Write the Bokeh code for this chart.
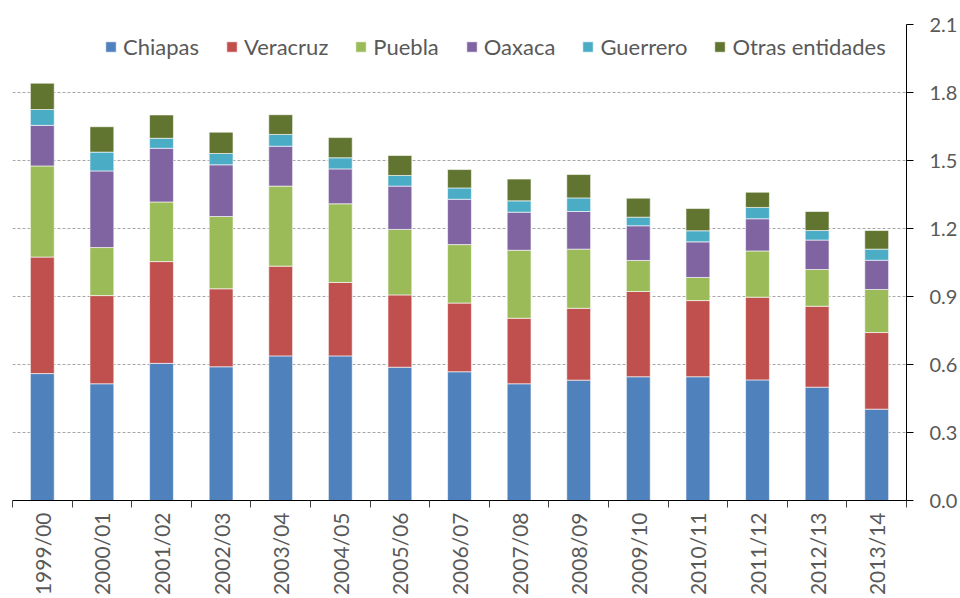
from bokeh.plotting import figure
from bokeh.models import ColumnDataSource, Range1d, FixedTicker, CustomJSTickFormatter, NumeralTickFormatter
from bokeh.embed import file_html
from bokeh.resources import INLINE
from math import pi

periods = ["1999/00", "2000/01", "2001/02", "2002/03", "2003/04", "2004/05", "2005/06",
           "2006/07", "2007/08", "2008/09", "2009/10", "2010/11", "2011/12", "2012/13", "2013/14"]

chiapas = [0.560, 0.515, 0.605, 0.590, 0.638, 0.638, 0.588, 0.568, 0.515, 0.531, 0.546, 0.546, 0.532, 0.500, 0.403]
veracruz = [0.514, 0.389, 0.449, 0.344, 0.396, 0.324, 0.319, 0.303, 0.289, 0.317, 0.376, 0.336, 0.365, 0.357, 0.338]
puebla = [0.402, 0.212, 0.263, 0.319, 0.353, 0.347, 0.289, 0.258, 0.300, 0.261, 0.137, 0.102, 0.204, 0.162, 0.190]
oaxaca = [0.179, 0.338, 0.237, 0.228, 0.176, 0.154, 0.191, 0.200, 0.168, 0.166, 0.153, 0.157, 0.142, 0.130, 0.129]
guerrero = [0.070, 0.083, 0.044, 0.050, 0.052, 0.049, 0.047, 0.050, 0.050, 0.060, 0.038, 0.049, 0.050, 0.042, 0.049]
otras = [0.116, 0.112, 0.103, 0.094, 0.087, 0.089, 0.088, 0.081, 0.096, 0.103, 0.084, 0.098, 0.067, 0.084, 0.082]

series_keys = ["chiapas", "veracruz", "puebla", "oaxaca", "guerrero", "otras"]
series_labels = ["Chiapas", "Veracruz", "Puebla", "Oaxaca", "Guerrero", "Otras entidades"]
colors = ["#4F81BD", "#C0504D", "#9BBB59", "#8064A2", "#4BACC6", "#617430"]
y_ticks = [0.0, 0.3, 0.6, 0.9, 1.2, 1.5, 1.8, 2.1]

n = len(periods)
x_centers = [i + 0.5 for i in range(n)]
boundaries = list(range(n + 1))

source = ColumnDataSource(dict(x=x_centers, chiapas=chiapas, veracruz=veracruz, puebla=puebla,
                               oaxaca=oaxaca, guerrero=guerrero, otras=otras))

FONT = "Lato"
TXT = "#595959"

p = figure(width=960, height=598, output_backend="svg", toolbar_location=None,
           x_range=Range1d(0, n), y_range=Range1d(0, 2.1), y_axis_location="right",
           min_border_left=12, min_border_top=24, min_border_right=47, min_border_bottom=10)
p.outline_line_color = None

p.vbar_stack(series_keys, x="x", width=0.4, source=source, color=colors,
             line_color="white", line_width=0.6, legend_label=series_labels)

# y axis
p.yaxis.ticker = FixedTicker(ticks=y_ticks)
p.yaxis.formatter = NumeralTickFormatter(format="0.0")
p.yaxis.major_label_text_font = FONT
p.yaxis.major_label_text_font_size = "20px"
p.yaxis.major_label_text_color = TXT
p.yaxis.axis_line_color = "black"
p.yaxis.major_tick_line_color = "black"
p.yaxis.major_tick_out = 7
p.yaxis.major_tick_in = 0
p.yaxis.minor_tick_line_color = None
p.yaxis.major_label_standoff = 16

# x axis
p.xaxis.ticker = FixedTicker(ticks=x_centers, minor_ticks=boundaries)
p.xaxis.formatter = CustomJSTickFormatter(args=dict(labels=periods),
                                          code="return labels[Math.floor(tick)];")
p.xaxis.major_label_orientation = pi / 2
p.xaxis.major_label_text_font = FONT
p.xaxis.major_label_text_font_size = "21px"
p.xaxis.major_label_text_color = TXT
p.xaxis.major_tick_out = 0
p.xaxis.major_tick_in = 0
p.xaxis.minor_tick_out = 7
p.xaxis.minor_tick_in = 0
p.xaxis.minor_tick_line_color = "#404040"
p.xaxis.axis_line_color = "black"
p.xaxis.major_label_standoff = 5

# grid
p.xgrid.visible = False
p.ygrid.ticker = FixedTicker(ticks=y_ticks)
p.ygrid.grid_line_color = "#A6A6A6"
p.ygrid.grid_line_dash = "3 2"
p.ygrid.grid_line_width = 1

# legend
lg = p.legend[0]
lg.orientation = "horizontal"
lg.location = (92, 440)
lg.margin = 0
lg.padding = 0
lg.spacing = 26
lg.label_text_font = FONT
lg.label_text_font_size = "22px"
lg.label_text_color = TXT
lg.glyph_width = 13
lg.glyph_height = 13
lg.label_standoff = 6
lg.background_fill_alpha = 0
lg.border_line_color = None

open("out.html", "w").write(file_html(p, INLINE))
